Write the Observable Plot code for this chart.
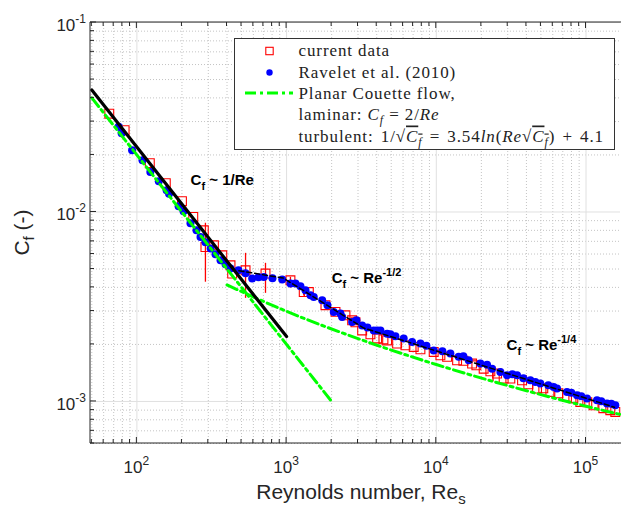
<!DOCTYPE html>
<html><head><meta charset="utf-8">
<script src="https://cdn.jsdelivr.net/npm/d3@7"></script>
<script src="https://cdn.jsdelivr.net/npm/@observablehq/plot@0.6"></script>
<style>
body{margin:0;background:#fff;}
#chart svg{display:block;}
</style>
</head><body><div id="chart"></div>
<script>
// ---- data ----
const currentRe = [65.4,82.8,122,156,200,238,280,287,327,372,422,433,532,723,1061,1302,1408,1818,2121,2473,2741,2884,3197,3631,4025,4436,4694,5474,6219,7065,7834,9608,10650,11810,13770,15170,17340,18520,20720,22970,25460,28180,31230,37400,41190,47100,51850,57790,65320,74680,82270,91620,102000,112400,130500,145300,156900];
const currentCf = [0.0330,0.0270,0.0181,0.0142,0.0114,0.00941,0.00800,0.00653,0.00667,0.00591,0.00523,0.00473,0.00492,0.00473,0.00436,0.00378,0.00378,0.00322,0.00297,0.00285,0.00268,0.002617,0.00237,0.002263,0.00215,0.002129,0.00210,0.00202,0.00198,0.00194,0.001886,0.001825,0.001753,0.00172,0.00165,0.00164,0.001585,0.001552,0.00149,0.001443,0.001404,0.00132,0.00132,0.001294,0.001232,0.00117,0.001174,0.001122,0.001105,0.001056,0.00104,0.000994,0.00099,0.000955,0.000921,0.000899,0.000880];
const errRe = [287,532,723,1061,1302,23930];
const errLo = [0.00426,0.00350,0.00372,0.00397,0.00360,0.00127];
const errHi = [0.00872,0.00605,0.00536,0.00452,0.00400,0.00150];
const ravRe = [75.5,79.1,92.9,109,123,140,158,164,190,205,228,250,266,287,311,335,362,391,422,477,532,589,649,704,805,935,1062,1147,1238,1337,1444,1519,1729,1875,2066,2290,2350,2741,2928,3197,3468,3821,4025,4236,4694,4938,5333,6058,6894,7834,8589,9608,10985,12420,14110,15170,16460,19700,21830,23580,26790,29690,32210,34630,38150,42480,45860,49550,56020,60770,64040,74680,79790,87090,93030,101600,118400,126500,138100,147600,156900];
const ravCf = [0.02816,0.02602,0.02116,0.01874,0.01626,0.01452,0.01302,0.01248,0.01072,0.01009,0.00872,0.00800,0.00738,0.00692,0.00641,0.00598,0.00556,0.00530,0.00503,0.00492,0.00475,0.00445,0.00452,0.00454,0.00447,0.00440,0.00419,0.00419,0.004054,0.00386,0.003634,0.00356,0.00342,0.00322,0.00297,0.00291,0.00279,0.00263,0.002683,0.00252,0.00246,0.00237,0.00237,0.00237,0.00228,0.002263,0.00221,0.00215,0.00206,0.00202,0.001967,0.00186,0.00184,0.00179,0.00172,0.001732,0.00165,0.001585,0.001562,0.00149,0.00143,0.001375,0.001391,0.001375,0.001326,0.001294,0.001267,0.001243,0.001218,0.001193,0.001170,0.001122,0.001111,0.001078,0.001065,0.001036,0.001015,0.001002,0.000975,0.000973,0.000955];
const lamRe = [50,2000];
const lamCf = [0.04,0.001];
const turbRe = [400,1000,3000,10000,30000,100000,170000];
const turbCf = [0.00412,0.00299,0.002147,0.001566,0.001213,0.000944,0.000853];
const fitLamRe = [50,1000];
const fitLamCf = [0.044,0.0022];
const fitTurbRe = [480,950,3280,155000];
const fitTurbCf = [0.0049,0.00448,0.00244,0.000932];
const xMajor = [100,1000,10000,100000];
const xMinor = [50,60,70,80,90,200,300,400,500,600,700,800,900,2000,3000,4000,5000,6000,7000,8000,9000,20000,30000,40000,50000,60000,70000,80000,90000];
const yMajor = [0.001,0.01,0.1];
const yMinor = [0.0006,0.0007,0.0008,0.0009,0.002,0.003,0.004,0.005,0.006,0.007,0.008,0.009,0.02,0.03,0.04,0.05,0.06,0.07,0.08,0.09];
const xTickExp = ["2","3","4","5"];
const yTickExp = ["-3","-2","-1"];
const legendLabels = ["current data","Ravelet et al. (2010)","Planar Couette flow,"];

// ---- tables ----
const current = currentRe.map((r,i)=>({Re:r, Cf:currentCf[i]}));
const errs = errRe.map((r,i)=>({Re:r, lo:errLo[i], hi:errHi[i]}));
const rav = ravRe.map((r,i)=>({Re:r, Cf:ravCf[i]}));
const lam = lamRe.map((r,i)=>({Re:r, Cf:lamCf[i]}));
const turb = turbRe.map((r,i)=>({Re:r, Cf:turbCf[i]}));
const fitLam = fitLamRe.map((r,i)=>({Re:r, Cf:fitLamCf[i]}));
const fitTurb = fitTurbRe.map((r,i)=>({Re:r, Cf:fitTurbCf[i]}));

const green = "#00ff00";
const dashDot = "11,4,3,4";
const sans = "'Liberation Sans', Arial, Helvetica, sans-serif";
const serif = "'Liberation Serif', 'Times New Roman', serif";

const plot = Plot.plot({
  width: 621, height: 507,
  marginLeft: 90, marginRight: 1, marginTop: 22, marginBottom: 64,
  x: {type: "log", domain: [49, 1.7e5], axis: null},
  y: {type: "log", domain: [6e-4, 0.1], axis: null},
  style: {background: "white", overflow: "visible"},
  marks: [
    Plot.ruleX(xMinor, {stroke: "#c4c4c4", strokeDasharray: "1,2", strokeWidth: 1}),
    Plot.ruleY(yMinor, {stroke: "#c4c4c4", strokeDasharray: "1,2", strokeWidth: 1}),
    Plot.ruleX(xMajor, {stroke: "#e0e0e0", strokeWidth: 1}),
    Plot.ruleY(yMajor, {stroke: "#e0e0e0", strokeWidth: 1}),
    Plot.ruleX(errs, {x: "Re", y1: "lo", y2: "hi", stroke: "#ff0000", strokeWidth: 1.3}),
    Plot.dot(current, {x: "Re", y: "Cf", symbol: "square", r: 5, stroke: "#ff0000", fill: "none", strokeWidth: 1.1}),
    Plot.dot(rav, {x: "Re", y: "Cf", r: 4, fill: "#0000ff", stroke: "none"}),
    Plot.line(lam, {x: "Re", y: "Cf", stroke: green, strokeWidth: 3, strokeDasharray: dashDot}),
    Plot.line(turb, {x: "Re", y: "Cf", stroke: green, strokeWidth: 3, strokeDasharray: dashDot, curve: "monotone-x"}),
    Plot.line(fitLam, {x: "Re", y: "Cf", stroke: "black", strokeWidth: 3.2}),
    Plot.line(fitTurb, {x: "Re", y: "Cf", stroke: "black", strokeWidth: 1.5, strokeDasharray: "5,3"})
  ]
});
document.getElementById("chart").appendChild(plot);

// ---- axes, labels, annotations, legend ----
const xs = plot.scale("x"), ys = plot.scale("y");
const X = v => xs.apply(v), Y = v => ys.apply(v);
const L = Math.min(...xs.range), R = Math.max(...xs.range);
const T = Math.min(...ys.range), B = Math.max(...ys.range);
const svg = d3.select(plot);
const axisColor = "#262626";
const ga = svg.append("g").attr("stroke", axisColor).attr("stroke-width", 1).attr("fill", "none");
ga.append("path").attr("d", `M${L},${T}V${B}H${R+1}M${L},${T}H${R+1}`);
const tick = (x1,y1,x2,y2) => ga.append("line").attr("x1",x1).attr("y1",y1).attr("x2",x2).attr("y2",y2);
for (const v of xMajor) { const x = X(v); tick(x,B,x,B-6); tick(x,T,x,T+6); }
for (const v of xMinor) { const x = X(v); tick(x,B,x,B-4); tick(x,T,x,T+4); }
for (const v of yMajor) { const y = Y(v); tick(L,y,L+6,y); }
for (const v of yMinor) { const y = Y(v); tick(L,y,L+4,y); }

function powLabel(x, y, exp, anchor) {
  const t = svg.append("text").attr("x", x).attr("y", y).attr("text-anchor", anchor)
    .attr("fill", "#262626").style("font-family", sans).style("font-size", "17px");
  t.append("tspan").text("10");
  t.append("tspan").attr("dy", -8).style("font-size", "12px").text(exp);
}
xMajor.forEach((v,i) => powLabel(X(v), 473, xTickExp[i], "middle"));
yMajor.forEach((v,i) => powLabel(86, Y(v) + 9, yTickExp[i], "end"));

// axis titles
const xt = svg.append("text").attr("x", 361).attr("y", 499).attr("text-anchor", "middle")
  .attr("fill", "#262626").style("font-family", sans).style("font-size", "21px");
xt.append("tspan").text("Reynolds number, Re");
xt.append("tspan").attr("dy", 5).style("font-size", "15px").text("s");
const yt = svg.append("text").attr("transform", `translate(29,${(T+B)/2}) rotate(-90)`).attr("text-anchor", "middle")
  .attr("fill", "#262626").style("font-family", sans).style("font-size", "21px");
yt.append("tspan").text("C");
yt.append("tspan").attr("dy", 5).style("font-size", "15px").text("f");
yt.append("tspan").attr("dy", -5).text(" (-)");

// annotations (anchored at data coordinates)
function annot(re, cf, rest, sup) {
  const t = svg.append("text").attr("x", X(re)).attr("y", Y(cf)).attr("fill", "black").attr("text-anchor", "start")
    .style("font-family", sans).style("font-size", "15px").style("font-weight", "bold");
  t.append("tspan").text("C");
  t.append("tspan").attr("dy", 5).style("font-size", "11px").text("f");
  t.append("tspan").attr("dy", -5).text(rest);
  if (sup) t.append("tspan").attr("dy", -7).style("font-size", "11px").text(sup);
}
annot(230, 0.01384, " ~ 1/Re", null);
annot(2016, 0.00419, " ~ Re", "-1/2");
annot(29690, 0.001863, " ~ Re", "-1/4");

// legend
const lg = svg.append("g").attr("text-anchor", "start");
lg.append("rect").attr("x", 234.5).attr("y", 38.5).attr("width", 380).attr("height", 111)
  .attr("fill", "white").attr("stroke", "#333").attr("stroke-width", 1);
const rowY = [56, 77.5, 98.5, 120, 141.5];
lg.append("rect").attr("x", 269.5-3.7).attr("y", rowY[0]-5-3.7).attr("width", 7.4).attr("height", 7.4)
  .attr("fill", "none").attr("stroke", "#ff0000").attr("stroke-width", 1.1);
lg.append("circle").attr("cx", 269.5).attr("cy", rowY[1]-5).attr("r", 3.2).attr("fill", "#0000ff");
lg.append("line").attr("x1", 245).attr("x2", 293).attr("y1", rowY[2]-5.5).attr("y2", rowY[2]-5.5)
  .attr("stroke", green).attr("stroke-width", 3).attr("stroke-dasharray", dashDot);
const txt = (y) => lg.append("text").attr("x", 298.5).attr("y", y).attr("fill", "#222").attr("text-anchor", "start")
  .style("font-family", serif).style("font-size", "17px").style("letter-spacing", "0.9px");
txt(rowY[0]).text(legendLabels[0]);
txt(rowY[1]).text(legendLabels[1]);
txt(rowY[2]).text(legendLabels[2]);
function parts(t, arr) {
  for (const p of arr) {
    const s = t.append("tspan").text(p.t);
    if (p.i) s.style("font-style", "italic");
    if (p.dy) s.attr("dy", p.dy);
    if (p.sub) s.style("font-size", "12px");
    if (p.o) s.style("text-decoration", "overline");
  }
}
parts(txt(rowY[3]), [{t:"laminar: "},{t:"C",i:1},{t:"f",i:1,sub:1,dy:4},{t:" = 2/",dy:-4},{t:"Re",i:1}]);
parts(txt(rowY[4]).style("word-spacing", "2px"), [{t:"turbulent: 1/√"},{t:"C",i:1,o:1},{t:"f",i:1,sub:1,dy:4,o:1},{t:" = 3.54",dy:-4},{t:"ln",i:1},{t:"("},{t:"Re",i:1},{t:"√"},{t:"C",i:1,o:1},{t:"f",i:1,sub:1,dy:4,o:1},{t:") + 4.1",dy:-4}]);
</script>
</body></html>
